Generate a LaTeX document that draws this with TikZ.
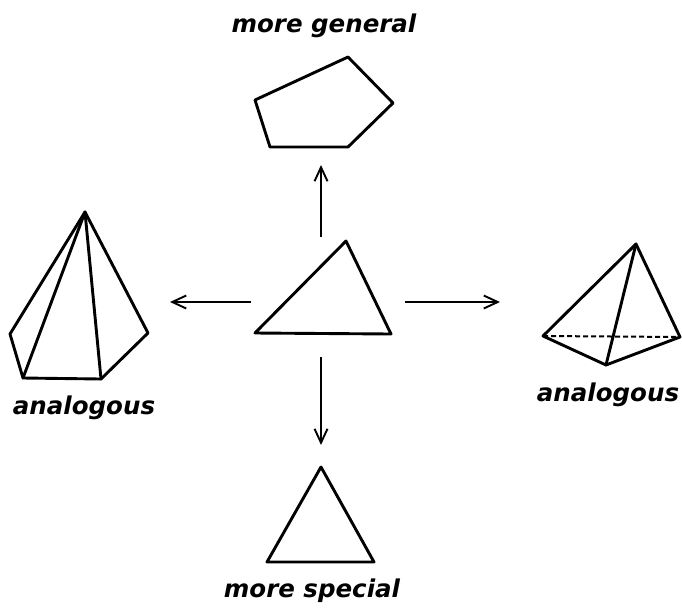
\documentclass[tikz,border=0pt]{standalone}
\usepackage{fontspec}
\setmainfont{DejaVu Sans}
\usetikzlibrary{arrows.meta}
\begin{document}
\begin{tikzpicture}[x=1pt,y=-1pt,
  shape line/.style={line width=2.9pt,line join=round,line cap=round},
  conn/.style={line width=1.9pt,-{Straight Barb[length=14pt,width=13pt,line width=1.9pt]}},
  lbl/.style={anchor=base,font=\bfseries\itshape\fontsize{24.5}{28}\selectfont}]
\useasboundingbox (0,0) rectangle (682,611);
% center triangle
\draw[shape line] (346,241) -- (255,333) -- (391,334) -- cycle;
% pentagon (more general)
\draw[shape line] (255,100) -- (348,57) -- (393,103) -- (348,147) -- (270,147) -- cycle;
% pyramid (left)
\draw[shape line] (85,212) -- (10,334) -- (23,378) -- (101,379) -- (148,333) -- cycle;
\draw[shape line] (85,212) -- (23,378);
\draw[shape line] (85,212) -- (101,379);
% tetrahedron (right)
\draw[shape line] (636,244) -- (543,336) -- (606,365) -- (680,337) -- cycle;
\draw[shape line] (636,244) -- (606,365);
\draw[line width=2pt,dash pattern=on 5pt off 3pt] (543,336) -- (680,337);
% bottom triangle
\draw[shape line] (321,467) -- (267,562) -- (374,562) -- cycle;
% arrow endpoints
\coordinate (upS) at (321,237);
\coordinate (upE) at (321,165);
\coordinate (lfS) at (251,302);
\coordinate (lfE) at (170,302);
\coordinate (rtS) at (405,302);
\coordinate (rtE) at (500,302);
\coordinate (dnS) at (321,357);
\coordinate (dnE) at (321,445);
\draw[conn] (upS) -- (upE);
\draw[conn] (lfS) -- (lfE);
\draw[conn] (rtS) -- (rtE);
\draw[conn] (dnS) -- (dnE);
% labels
\node[lbl] (gen) at (324,32) {more general};
\node[lbl] (spec) at (312,597) {more special};
\node[lbl] (anL) at (84,414) {analogous};
\node[lbl] (anR) at (608,401) {analogous};
\end{tikzpicture}
\end{document}
